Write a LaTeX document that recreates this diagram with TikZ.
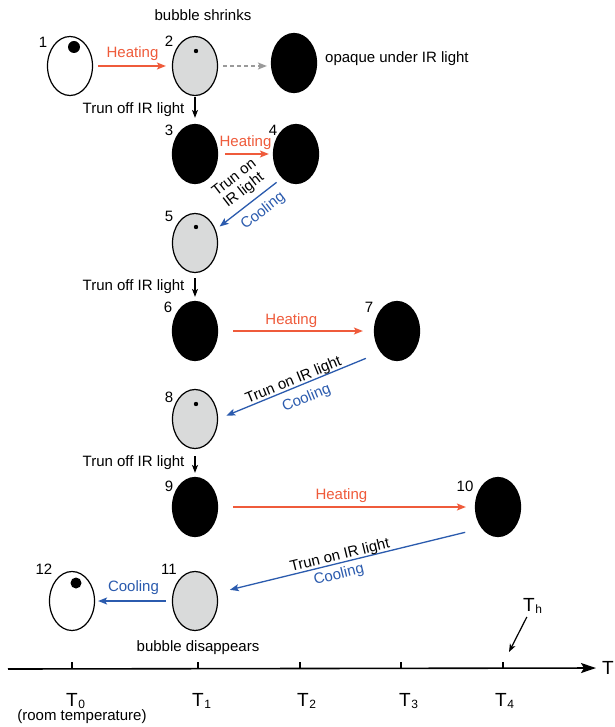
\documentclass[tikz,border=0pt]{standalone}
\usepackage{fontspec}
\setmainfont{Liberation Sans}
\usetikzlibrary{shapes.geometric,arrows.meta}
\definecolor{heat}{HTML}{EF5B3B}
\definecolor{cool}{HTML}{2B5BAE}
\definecolor{bub}{HTML}{D9DADA}
\definecolor{dashgray}{HTML}{9A9A9A}
\newcommand{\Tlab}[1]{T\kern0.6pt\raisebox{-2.2pt}{\fontsize{12}{12}\selectfont #1}}
\begin{document}
\begin{tikzpicture}[x=1pt,y=-1pt,
  every node/.style={font=\fontsize{15}{15.5}\selectfont, inner sep=1pt},
  cell/.style={ellipse, draw=black, line width=1.2pt, minimum width=45pt, minimum height=59pt, inner sep=0pt},
  clearcell/.style={cell, fill=white},
  shrunkcell/.style={cell, fill=bub},
  opaquecell/.style={cell, fill=black},
  bubble/.style={circle, fill=black, inner sep=0pt, minimum size=#1},
  heatarrow/.style={draw=heat, line width=1.3pt, -{Stealth[length=9pt,width=7pt,inset=2pt]}},
  coolarrow/.style={draw=cool, line width=1.3pt, -{Stealth[length=9pt,width=7pt,inset=2pt]}},
  offarrow/.style={draw=black, line width=1.2pt, -{Stealth[length=8pt,width=6pt,inset=2pt]}},
  heatlabel/.style={text=heat},
  coollabel/.style={text=cool},
  bigT/.style={font=\fontsize{19}{19}\selectfont, inner sep=0pt},
]
\path[use as bounding box, fill=white] (0,0) rectangle (614,727);

% cells
\node[clearcell]  (e1)  at (70,66)   {};
\node[shrunkcell] (e2)  at (195,66)  {};
\node[opaquecell] (eo)  at (294,63)  {};
\node[opaquecell] (e3)  at (195,154) {};
\node[opaquecell] (e4)  at (296,154) {};
\node[shrunkcell] (e5)  at (195,243) {};
\node[opaquecell] (e6)  at (195,331) {};
\node[opaquecell] (e7)  at (397,331) {};
\node[shrunkcell] (e8)  at (195,419) {};
\node[opaquecell] (e9)  at (195,507) {};
\node[opaquecell] (e10) at (498,507) {};
\node[shrunkcell] (e11) at (195,601) {};
\node[clearcell]  (e12) at (72,601)  {};

% bubbles
\node[bubble=12pt]  (b1)  at (74,47)   {};
\node[bubble=4.4pt] (b2)  at (196,51)  {};
\node[bubble=4.4pt] (b5)  at (196,227) {};
\node[bubble=4.4pt] (b8)  at (196,404) {};
\node[bubble=11pt]  (b12) at (76,583)  {};

% numbers
\node (n1)  at (43,42)   {1};
\node (n2)  at (169,41)  {2};
\node (n3)  at (169,130) {3};
\node (n4)  at (273,130) {4};
\node (n5)  at (169,216) {5};
\node (n6)  at (168,307) {6};
\node (n7)  at (369,307) {7};
\node (n8)  at (169,397) {8};
\node (n9)  at (169,486) {9};
\node (n10) at (465,486) {10};
\node (n11) at (169,569) {11};
\node (n12) at (44,569)  {12};

% texts
\node (shr) at (203,15) {bubble shrinks};
\node[anchor=west] (opq) at (324,59) {opaque under IR light};
\node (dis) at (198,648) {bubble disappears};

% heating
\draw[heatarrow, shorten <=5pt, shorten >=6pt] (e1.east) -- (e2.west)
  node[midway, above=4pt, heatlabel] (h12) {Heating};
\draw[draw=dashgray, line width=1.2pt, dash pattern=on 4pt off 3pt,
  -{Stealth[length=9pt,width=7pt,inset=2pt]}, shorten <=5pt, shorten >=4pt]
  (e2.east) -- (e2.east -| eo.west);
\draw[heatarrow, shorten <=7pt, shorten >=4pt] (e3.east) -- (e4.west)
  node[midway, above=3pt, heatlabel] (h34) {Heating};
\draw[heatarrow, shorten <=15pt, shorten >=11pt] (e6.east) -- (e7.west)
  node[pos=0.47, above=2pt, heatlabel] (h67) {Heating};
\draw[heatarrow, shorten <=15pt, shorten >=9pt] (e9.east) -- (e10.west)
  node[pos=0.48, above=3pt, heatlabel] (h910) {Heating};

% turn off IR light
\draw[offarrow, shorten <=1pt, shorten >=6pt] (e2.south) -- (e3.north)
  node[midway, left=9pt] (o23) {Trun off IR light};
\draw[offarrow, shorten <=5pt, shorten >=4pt] (e5.south) -- (e6.north)
  node[midway, left=9pt] (o56) {Trun off IR light};
\draw[offarrow, shorten <=7pt, shorten >=4pt] (e8.south) -- (e9.north)
  node[midway, left=9pt] (o89) {Trun off IR light};

% cooling
\draw[coolarrow, shorten <=7pt, shorten >=5pt] (e4.240) -- (e5.33)
  node[pos=0.45, sloped, above=5pt, align=center] (t45) {Trun on\\IR light}
  node[pos=0.42, sloped, below=6pt, coollabel] (c45) {Cooling};
\draw[coolarrow, shorten <=16pt, shorten >=9pt] (e7.south west) -- (e8.east)
  node[pos=0.52, sloped, above=-2pt] (t78) {Trun on IR light}
  node[pos=0.49, sloped, below=6pt, coollabel] (c78) {Cooling};
\draw[coolarrow, shorten <=17pt, shorten >=13pt] (e10.south west) -- (e11.20)
  node[pos=0.53, sloped, above=-2pt] (t1011) {Trun on IR light}
  node[pos=0.55, sloped, below=3pt, coollabel] (c1011) {Cooling};
\draw[coolarrow, shorten <=6pt, shorten >=3pt] (e11.west) -- (e12.east)
  node[midway, above=5pt, coollabel] (c1112) {Cooling};

% axis
\coordinate (ax0) at (8,669);
\node[bigT] (tax) at (608,668) {T};
\draw[line width=1.6pt, -{Stealth[length=15pt,width=10pt,inset=3pt]}, shorten >=6pt] (ax0) -- (tax.west);
\foreach \x in {72,198,300,401,503} \draw[line width=1.2pt] (\x,662) -- (\x,669);
\node[bigT, anchor=base west] (T0) at (66,706)  {\Tlab{0}};
\node[bigT, anchor=base west] (T1) at (192,706) {\Tlab{1}};
\node[bigT, anchor=base west] (T2) at (297,706) {\Tlab{2}};
\node[bigT, anchor=base west] (T3) at (399,706) {\Tlab{3}};
\node[bigT, anchor=base west] (T4) at (495,706) {\Tlab{4}};
\node (room) at (82,717) {(room temperature)};

% T_h
\node[bigT, anchor=base west] (th) at (523,611) {\Tlab{h}};
\coordinate (thend) at (509,652);
\draw[line width=1.2pt, -{Stealth[length=8pt,width=6pt,inset=2pt]}, shorten <=4pt] (th) -- (thend);
\end{tikzpicture}
\end{document}
